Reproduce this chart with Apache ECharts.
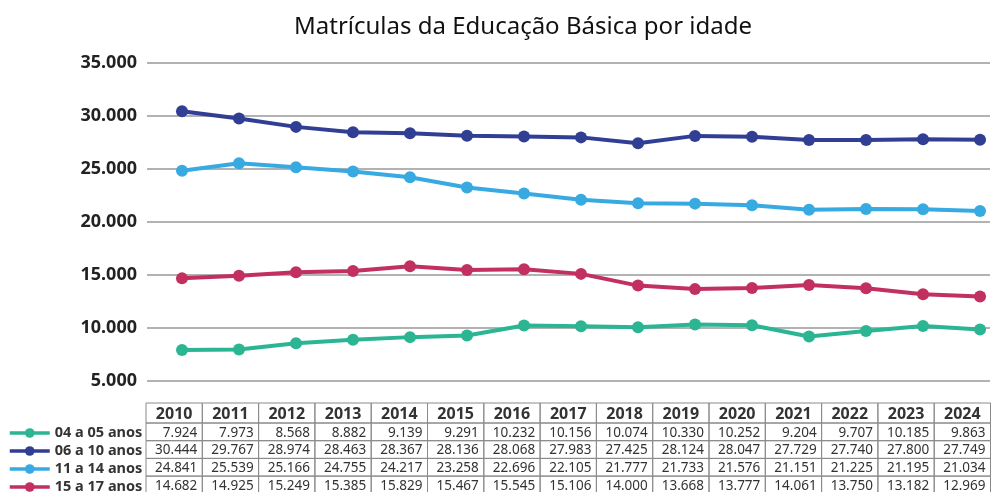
<!DOCTYPE html>
<html>
<head>
<meta charset="utf-8">
<script src="https://cdn.jsdelivr.net/npm/echarts@6/dist/echarts.min.js"></script>
<style>
  html, body { margin: 0; padding: 0; background: #fff; }
  #chart { width: 998px; height: 492px; }
</style>
</head>
<body>
<div id="chart"></div>
<script>
// dados (em milhares de matrículas)
const years = [2010, 2011, 2012, 2013, 2014, 2015, 2016, 2017, 2018, 2019, 2020, 2021, 2022, 2023, 2024]
const seriesNames = ['04 a 05 anos', '06 a 10 anos', '11 a 14 anos', '15 a 17 anos']
const idade04a05 = [7924, 7973, 8568, 8882, 9139, 9291, 10232, 10156, 10074, 10330, 10252, 9204, 9707, 10185, 9863]
const idade06a10 = [30444, 29767, 28974, 28463, 28367, 28136, 28068, 27983, 27425, 28124, 28047, 27729, 27740, 27800, 27749]
const idade11a14 = [24841, 25539, 25166, 24755, 24217, 23258, 22696, 22105, 21777, 21733, 21576, 21151, 21225, 21195, 21034]
const idade15a17 = [14682, 14925, 15249, 15385, 15829, 15467, 15545, 15106, 14000, 13668, 13777, 14061, 13750, 13182, 12969]
const yTicks = [5000, 10000, 15000, 20000, 25000, 30000, 35000]

const allValues = [idade04a05, idade06a10, idade11a14, idade15a17]
const colors = ['#2bb593', '#303e93', '#38aae2', '#c2305f']
const font = '"Noto Sans", "Open Sans", sans-serif'

function fmt(v) {
    return String(v).replace(/\B(?=(\d{3})+(?!\d))/g, '.')
}

let chart = echarts.init(document.getElementById('chart'))

// tabela de dados embaixo do gráfico
const tabLeft = 146, colW = 56.3, tabTop = 403, headH = 20, rowH = 17.7
let table = []
years.forEach((y, i) => {
    let x = tabLeft + i * colW
    table.push({
        type: 'rect', shape: { x: x, y: tabTop, width: colW, height: headH },
        style: { fill: 'none', stroke: '#8a8a8a', lineWidth: 1 }
    })
    table.push({
        type: 'text', x: x + colW / 2, y: tabTop + headH / 2 + 1,
        style: { text: String(y), align: 'center', verticalAlign: 'middle', font: 'bold 16px ' + font, fill: '#333' }
    })
    allValues.forEach((vals, r) => {
        let ry = tabTop + headH + r * rowH
        table.push({
            type: 'rect', shape: { x: x, y: ry, width: colW, height: rowH },
            style: { fill: 'none', stroke: '#8a8a8a', lineWidth: 1 }
        })
        table.push({
            type: 'text', x: x + colW - 5, y: ry + rowH / 2 + 1,
            style: { text: fmt(vals[i]), align: 'right', verticalAlign: 'middle', font: '13.5px ' + font, fill: '#333' }
        })
    })
})

let option = {
    animation: false,
    title: {
        text: 'Matrículas da Educação Básica por idade',
        left: 518, top: 10, textAlign: 'center',
        textStyle: { fontFamily: font, fontSize: 24, fontWeight: 'normal', color: '#111' }
    },
    legend: {
        orient: 'vertical', left: 8, top: 424, height: 80, padding: 0,
        itemWidth: 40, itemHeight: 12, itemGap: 0,
        data: seriesNames,
        lineStyle: { width: 3.5 },
        textStyle: { fontFamily: font, fontSize: 14.5, fontWeight: 'bold', color: '#333', lineHeight: 18 }
    },
    grid: { left: 147, right: 8, top: 63, bottom: 111, containLabel: false },
    xAxis: {
        type: 'value', min: 2009.386, max: 2024.175, show: false
    },
    yAxis: {
        type: 'value', min: 5000, max: 35000, interval: 5000,
        axisLine: { show: false }, axisTick: { show: false },
        axisLabel: {
            formatter: v => fmt(v), margin: 10,
            fontFamily: font, fontSize: 18, fontWeight: 'bold', color: '#222'
        },
        splitLine: { lineStyle: { color: '#999', width: 1.5 } }
    },
    series: seriesNames.map((name, k) => ({
        name: name,
        type: 'line',
        data: years.map((y, i) => [y, allValues[k][i]]),
        symbol: 'circle', symbolSize: 12,
        lineStyle: { width: 4, color: colors[k] },
        itemStyle: { color: colors[k] }
    })),
    graphic: table
}
chart.setOption(option)
</script>
</body>
</html>
